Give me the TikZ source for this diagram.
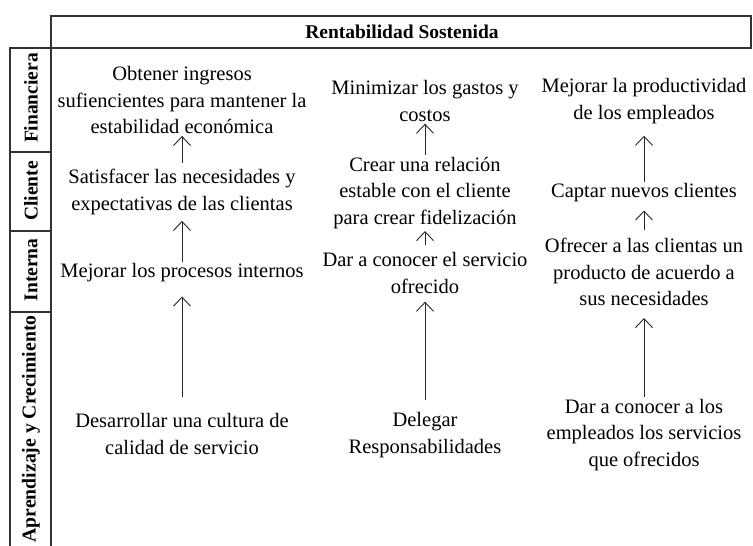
\documentclass[tikz,border=0pt]{standalone}
\usepackage{fontspec}
\setmainfont{Liberation Serif}
\usetikzlibrary{arrows.meta}

\begin{document}
\begin{tikzpicture}[x=1pt, y=-1pt,
    goal/.style={align=center, font=\fontsize{20.5}{26.5}\selectfont, inner sep=2pt},
    rowlabel/.style={rotate=90, font=\fontsize{19.5}{22}\selectfont\bfseries, inner sep=0pt},
    frame/.style={draw=black!80, line width=1.2pt},
    link/.style={-{Straight Barb[length=9pt,width=17pt]}, line width=0.9pt, draw=black!85}]
  \useasboundingbox (0,0) rectangle (753,546);

  % marco de la tabla
  \draw[frame] (51,546) -- (51,16) -- (751,16) -- (751,48) -- (51,48);
  \draw[frame] (10,546) -- (10,48) -- (51,48);
  \draw[frame] (10,152) -- (51,152);
  \draw[frame] (10,231) -- (51,231);
  \draw[frame] (10,312) -- (51,312);

  \node[font=\fontsize{19.5}{22}\selectfont\bfseries] (titulo) at (402,32) {Rentabilidad Sostenida};

  % perspectivas
  \node[rowlabel] (financiera) at (31,98) {Financiera};
  \node[rowlabel] (cliente) at (31,191) {Cliente};
  \node[rowlabel] (interna) at (31,270) {Interna};
  \begin{scope}
    \clip (10,312) rectangle (51,546);
    \node[rowlabel, font=\fontsize{19.7}{22}\selectfont\bfseries] (aprendizaje) at (31,429) {Aprendizaje y Crecimiento};
  \end{scope}

  % columna 1
  \node[goal] (ingresos) at (182,100) {Obtener ingresos\\sufiencientes para mantener la\\estabilidad económica};
  \node[goal] (satisfacer) at (182,192) {Satisfacer las necesidades y\\expectativas de las clientas};
  \node[goal] (procesos) at (182,273) {Mejorar los procesos internos};
  \node[goal] (cultura) at (182,434) {Desarrollar una cultura de\\calidad de servicio};

  % columna 2
  \node[goal] (gastos) at (425,101) {Minimizar los gastos y\\costos};
  \node[goal] (relacion) at (425,193) {Crear una relación\\estable con el cliente\\para crear fidelización};
  \node[goal] (conocer) at (425,273) {Dar a conocer el servicio\\ofrecido};
  \node[goal] (delegar) at (425,435) {Delegar\\Responsabilidades};

  % columna 3
  \node[goal] (productividad) at (644,101) {Mejorar la productividad\\de los empleados};
  \node[goal] (captar) at (644,193) {Captar nuevos clientes};
  \node[goal] (ofrecer) at (644,272) {Ofrecer a las clientas un\\producto de acuerdo a\\sus necesidades};
  \node[goal] (empleados) at (644,435) {Dar a conocer a los\\empleados los servicios\\que ofrecidos};

  \draw[link, shorten <=4pt] (satisfacer) -- (ingresos);
  \draw[link, shorten >=4pt] (procesos) -- (satisfacer);
  \draw[link, shorten <=14pt, shorten >=12pt] (cultura) -- (procesos);

  \draw[link] (relacion) -- (gastos);
  \draw[link, shorten <=5pt] (conocer) -- (relacion);
  \draw[link, shorten <=10pt, shorten >=6pt] (delegar) -- (conocer);

  \draw[link, shorten >=10pt] (captar) -- (productividad);
  \draw[link, shorten <=6pt, shorten >=6pt] (ofrecer) -- (captar);
  \draw[link, shorten >=10pt] (empleados) -- (ofrecer);
\end{tikzpicture}
\end{document}
